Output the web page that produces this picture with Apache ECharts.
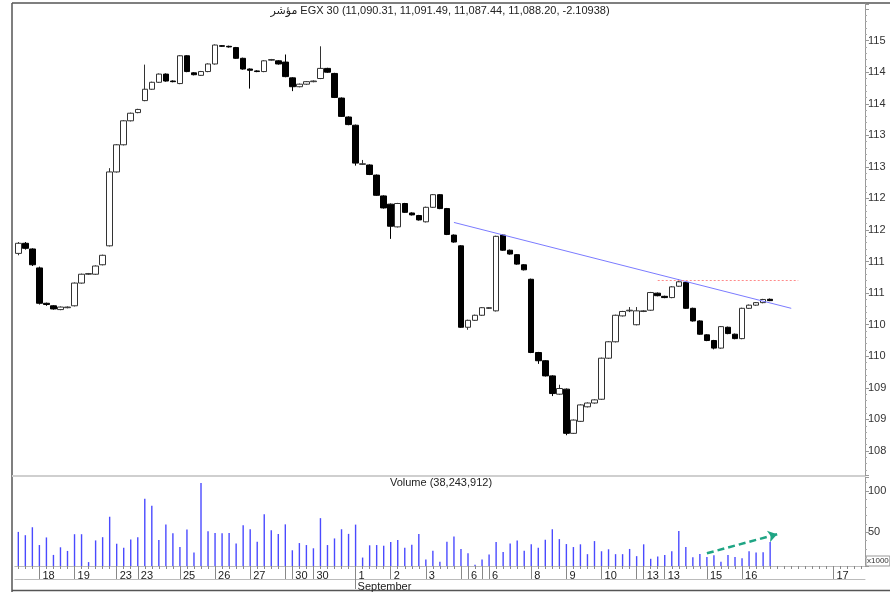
<!DOCTYPE html>
<html>
<head>
<meta charset="utf-8">
<script src="https://cdn.jsdelivr.net/npm/echarts@6/dist/echarts.min.js"></script>
<style>
  html, body { margin: 0; padding: 0; background: #fff; }
  #main { width: 890px; height: 592px; }
</style>
</head>
<body>
<div id="main"></div>
<script>
// candles: [open, close, low, high]
let candles = [
  [11163, 11179, 11160, 11181], [11179, 11171, 11169, 11181], [11170, 11145, 11143, 11171], [11140, 11084, 11082, 11142],
  [11084, 11082, 11080, 11085], [11080, 11075, 11074, 11081], [11074, 11078, 11073, 11079], [11077, 11078, 11076, 11079],
  [11080, 11116, 11079, 11117], [11116, 11130, 11115, 11131], [11130, 11131, 11129, 11132], [11130, 11143, 11129, 11144],
  [11145, 11160, 11144, 11161], [11175, 11292, 11174, 11298], [11292, 11335, 11291, 11336], [11335, 11373, 11334, 11374],
  [11373, 11385, 11372, 11386], [11386, 11391, 11385, 11392], [11405, 11423, 11404, 11462], [11423, 11434, 11422, 11435],
  [11434, 11447, 11433, 11448], [11447, 11436, 11435, 11448], [11436, 11435, 11434, 11437], [11432, 11476, 11431, 11477],
  [11476, 11451, 11450, 11477], [11449, 11446, 11445, 11450], [11445, 11451, 11444, 11452], [11451, 11463, 11450, 11464],
  [11463, 11493, 11462, 11494], [11492, 11491, 11490, 11493], [11491, 11490, 11489, 11492], [11489, 11472, 11471, 11490],
  [11472, 11455, 11454, 11473], [11455, 11453, 11424, 11456], [11452, 11451, 11450, 11453], [11451, 11468, 11450, 11469],
  [11469, 11470, 11468, 11471], [11468, 11463, 11462, 11469], [11466, 11443, 11442, 11478], [11441, 11427, 11420, 11442],
  [11427, 11431, 11426, 11432], [11431, 11435, 11430, 11436], [11435, 11436, 11434, 11437], [11440, 11456, 11439, 11491],
  [11456, 11450, 11449, 11457], [11448, 11410, 11409, 11449], [11409, 11380, 11379, 11410], [11379, 11367, 11366, 11380],
  [11366, 11306, 11302, 11367], [11304, 11305, 11303, 11311], [11303, 11288, 11287, 11304], [11287, 11255, 11254, 11288],
  [11254, 11235, 11234, 11255], [11241, 11206, 11186, 11242], [11205, 11242, 11204, 11243], [11242, 11228, 11227, 11243],
  [11227, 11224, 11223, 11228], [11223, 11216, 11215, 11224], [11213, 11236, 11212, 11237], [11236, 11256, 11235, 11257],
  [11256, 11234, 11233, 11257], [11234, 11193, 11192, 11235], [11192, 11181, 11180, 11193], [11175, 11046, 11045, 11176],
  [11046, 11057, 11042, 11058], [11057, 11065, 11056, 11066], [11065, 11077, 11064, 11078], [11076, 11077, 11075, 11078],
  [11072, 11190, 11071, 11191], [11192, 11168, 11167, 11193], [11168, 11162, 11161, 11169], [11161, 11146, 11145, 11162],
  [11145, 11137, 11136, 11146], [11122, 11006, 11005, 11123], [11006, 10993, 10988, 11007], [10993, 10969, 10968, 10994],
  [10969, 10941, 10937, 10970], [10940, 10949, 10939, 10955], [10948, 10878, 10875, 10949], [10878, 10899, 10877, 10900],
  [10897, 10923, 10896, 10924], [10920, 10926, 10919, 10927], [10926, 10931, 10925, 10932], [10932, 10997, 10931, 10998],
  [10997, 11023, 10996, 11024], [11023, 11065, 11022, 11066], [11064, 11071, 11063, 11072], [11072, 11073, 11070, 11078],
  [11050, 11072, 11049, 11078], [11071, 11072, 11070, 11073], [11073, 11101, 11072, 11102], [11100, 11096, 11095, 11101],
  [11095, 11093, 11092, 11096], [11093, 11110, 11092, 11111], [11111, 11118, 11110, 11122], [11117, 11076, 11075, 11118],
  [11076, 11056, 11055, 11077], [11056, 11035, 11034, 11057], [11034, 11025, 11024, 11035], [11025, 11013, 11011, 11026],
  [11013, 11047, 11012, 11048], [11046, 11036, 11035, 11047], [11035, 11028, 11027, 11036], [11028, 11076, 11027, 11077],
  [11076, 11081, 11075, 11082], [11081, 11085, 11080, 11086], [11085, 11090, 11084, 11091], [11090.31, 11088.20, 11087.44, 11091.49]
];

// volume in thousands
let volumes = [
  50.4, 46.4, 56.0, 34.5, 43.7, 22.6, 31.8, 27.4, 47.6, 47.6, 13.9, 40.1, 44.0, 68.7, 36.1, 31.3,
  41.3, 44.0, 90.5, 82.1, 40.5, 59.2, 48.8, 32.1, 53.2, 25.4, 109.5, 51.2, 49.2, 48.8, 49.2, 36.5,
  58.3, 53.6, 38.5, 71.8, 52.4, 48.0, 59.5, 28.2, 36.9, 34.5, 30.6, 67.0, 34.5, 42.5, 53.6, 48.0,
  59.2, 19.4, 34.2, 34.5, 33.7, 38.1, 40.5, 31.3, 34.9, 48.0, 17.0, 27.7, 14.3, 38.5, 44.9, 29.8,
  24.6, 10.7, 17.0, 23.0, 38.1, 26.2, 36.5, 40.1, 27.7, 35.4, 31.3, 40.8, 53.6, 41.7, 35.7, 32.1,
  35.4, 23.5, 39.3, 27.0, 29.4, 23.5, 23.5, 29.8, 21.1, 35.4, 17.9, 20.6, 22.6, 27.0, 51.5, 32.1,
  19.9, 23.8, 20.2, 22.3, 14.3, 22.6, 20.2, 18.7, 27.0, 25.4, 25.8, 38.2
];

// x axis: candle index where each day label sits
let dayIdx = [3, 8, 14, 17, 23, 28, 33, 39, 42, 48, 53, 58, 64, 67, 73, 78, 83, 89, 92, 98, 103, 116];
let dayTxt = ['18', '19', '23', '23', '25', '26', '27', '30', '30', '1', '2', '3', '6', '6', '8', '9', '10', '13', '13', '15', '16', '17'];
let extraTickIdx = [38, 63, 66, 88];
let monthIdx = [48];
let monthTxt = ['September'];

let slotCount = 121;
let trendLine = [[62, 11212], [110, 11076]];
let resistLine = [[91, 11121], [111, 11121]];
let volArrow = [[98, 24.6], [108, 47.6]];

let titleText = 'مؤشر EGX 30 (11,090.31, 11,091.49, 11,087.44, 11,088.20, -2.10938)';
let volTitle = 'Volume (38,243,912)';

let cats = [];
for (let i = 0; i < slotCount; i++) cats.push(String(i));

let font = '"Liberation Sans", Arial, "DejaVu Sans", sans-serif';
let gridL = 14.8, gridR = 25;

function isDay(i) { return dayIdx.indexOf(i) >= 0; }
function isLongTick(i) { return dayIdx.indexOf(i) >= 0 || extraTickIdx.indexOf(i) >= 0; }
function isMonth(i) { return monthIdx.indexOf(i) >= 0; }

let myChart = echarts.init(document.getElementById('main'));
let option = {
  animation: false,
  backgroundColor: '#fff',
  textStyle: { fontFamily: font },
  grid: [
    { left: gridL, right: gridR, top: 4, height: 471 },
    { left: gridL, right: gridR, top: 477, height: 90.3 }
  ],
  xAxis: [
    { type: 'category', gridIndex: 0, data: cats, boundaryGap: true, show: false },
    {
      type: 'category', gridIndex: 1, position: 'bottom', data: cats, boundaryGap: true,
      axisLine: { show: true, lineStyle: { color: '#bbb' } },
      axisTick: { show: true, interval: 0, alignWithLabel: true, length: 3, lineStyle: { color: '#888' } },
      axisLabel: { show: false },
      splitLine: { show: false }
    },
    {
      type: 'category', gridIndex: 1, position: 'bottom', offset: 0, data: cats, boundaryGap: true,
      axisLine: { show: false },
      axisTick: {
        show: true, alignWithLabel: true, length: 13,
        interval: function (i) { return isLongTick(i); },
        lineStyle: { color: '#888' }
      },
      axisLabel: {
        show: true, margin: 4, align: 'left', padding: [0, 0, 0, 3],
        fontSize: 11, color: '#222', fontFamily: font,
        interval: function (i) { return isDay(i); },
        formatter: function (v, i) { let k = dayIdx.indexOf(i); return k >= 0 ? dayTxt[k] : ''; }
      },
      splitLine: { show: false }
    },
    {
      type: 'category', gridIndex: 1, position: 'bottom', offset: 13, data: cats, boundaryGap: true,
      axisLine: { show: true, lineStyle: { color: '#bbb' } },
      axisTick: {
        show: true, alignWithLabel: true, length: 10,
        interval: function (i) { return isMonth(i); },
        lineStyle: { color: '#888' }
      },
      axisLabel: {
        show: true, margin: 2, align: 'left', padding: [0, 0, 0, 2],
        fontSize: 11, color: '#222', fontFamily: font,
        interval: function (i) { return isMonth(i); },
        formatter: function (v, i) { let k = monthIdx.indexOf(i); return k >= 0 ? monthTxt[k] : ''; }
      },
      splitLine: { show: false }
    }
  ],
  yAxis: [
    {
      type: 'value', gridIndex: 0, position: 'right', scale: true,
      min: 10812, max: 11558, splitNumber: 15,
      axisLine: { show: true, lineStyle: { color: '#999' } },
      axisTick: { show: true, length: 4, lineStyle: { color: '#999' } },
      minorTick: { show: true, splitNumber: 5, length: 2, lineStyle: { color: '#aaa' } },
      splitLine: { show: false },
      axisLabel: {
        margin: 3, fontSize: 11, color: '#333', fontFamily: font,
        showMinLabel: false, showMaxLabel: false,
        formatter: function (v) { return v % 50 === 0 && v <= 11500 ? String(Math.floor(v / 100)) : ''; }
      }
    },
    {
      type: 'value', gridIndex: 1, position: 'right',
      min: 9.2, max: 116.7, splitNumber: 2,
      axisLine: { show: true, lineStyle: { color: '#999' } },
      axisTick: { show: true, length: 4, lineStyle: { color: '#999' } },
      minorTick: { show: true, splitNumber: 5, length: 2, lineStyle: { color: '#aaa' } },
      splitLine: { show: false },
      axisLabel: {
        margin: 3, fontSize: 11, color: '#333', fontFamily: font,
        showMinLabel: false, showMaxLabel: false,
        formatter: function (v) { return v % 50 === 0 ? String(v) : ''; }
      }
    }
  ],
  series: [
    {
      name: 'EGX 30',
      type: 'candlestick',
      xAxisIndex: 0, yAxisIndex: 0,
      data: candles,
      barWidth: 6,
      itemStyle: {
        color: '#ffffff', color0: '#000000',
        borderColor: '#333333', borderColor0: '#000000', borderWidth: 1
      },
      markLine: {
        silent: true, symbol: ['none', 'none'], label: { show: false },
        data: [
          [{ coord: trendLine[0], lineStyle: { color: '#7b7bff', width: 1, type: 'solid' } }, { coord: trendLine[1] }],
          [{ coord: resistLine[0], lineStyle: { color: '#ff8a8a', width: 1, type: [2, 2] } }, { coord: resistLine[1] }]
        ]
      }
    },
    {
      name: 'Volume',
      type: 'bar',
      xAxisIndex: 1, yAxisIndex: 1,
      data: volumes,
      barWidth: 1.4,
      itemStyle: { color: '#4a4aff' },
      markLine: {
        silent: true, symbol: ['none', 'arrow'], symbolSize: 9, label: { show: false },
        lineStyle: { color: '#1fa584', width: 2.5, type: [7, 4] },
        data: [[{ coord: volArrow[0] }, { coord: volArrow[1] }]]
      }
    }
  ],
  graphic: [
    { type: 'line', shape: { x1: 12, y1: 3, x2: 890, y2: 3 }, style: { stroke: '#555', lineWidth: 1.5 } },
    { type: 'line', shape: { x1: 12, y1: 3, x2: 12, y2: 592 }, style: { stroke: '#555', lineWidth: 1.5 } },
    { type: 'line', shape: { x1: 12, y1: 476, x2: 865, y2: 476 }, style: { stroke: '#cfcfcf', lineWidth: 2 } },
    { type: 'line', shape: { x1: 12, y1: 590.5, x2: 890, y2: 590.5 }, style: { stroke: '#555', lineWidth: 1.5 } },
    { type: 'text', x: 440, y: 5, style: { text: titleText, textAlign: 'center', font: '11px ' + font, fill: '#222' } },
    { type: 'text', x: 441, y: 477, style: { text: volTitle, textAlign: 'center', font: '11px ' + font, fill: '#222' } },
    { type: 'text', x: 866, y: 556, style: { text: 'x1000', font: '8px ' + font, fill: '#333', borderColor: '#999', borderWidth: 1, padding: [1, 1] } }
  ]
};
myChart.setOption(option);
window.addEventListener('resize', function () { myChart.resize(); });
</script>
</body>
</html>
